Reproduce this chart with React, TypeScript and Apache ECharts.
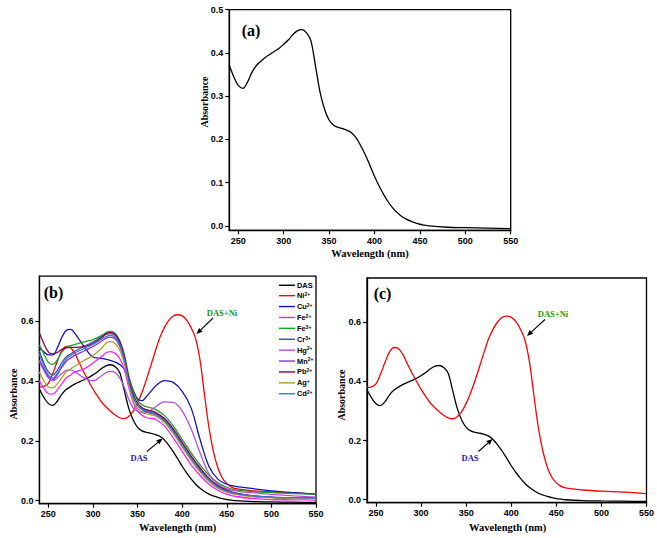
import React, { useEffect, useRef } from "react";
import * as echarts from "echarts";

// ---------- data ----------
const WL_FINE = [240, 245, 250, 255, 260, 265, 270, 275, 280, 285, 290, 295, 300, 305, 310, 315, 320, 325, 330, 335, 340, 345, 350, 355, 360, 365, 370, 375, 380, 385, 390, 395, 400, 405, 410, 415, 420, 425, 430, 435, 440, 445, 450, 455, 460, 480, 500, 525, 550];

const DAS = [0.372, 0.345, 0.325, 0.318, 0.332, 0.355, 0.371, 0.381, 0.390, 0.397, 0.404, 0.411, 0.420, 0.430, 0.442, 0.451, 0.454, 0.447, 0.428, 0.370, 0.310, 0.270, 0.245, 0.233, 0.228, 0.225, 0.221, 0.215, 0.203, 0.185, 0.164, 0.140, 0.115, 0.093, 0.073, 0.056, 0.042, 0.031, 0.022, 0.016, 0.011, 0.007, 0.004, 0.002, 0.000, -0.003, -0.004, -0.005, -0.006];

const NI = [0.380, 0.382, 0.392, 0.425, 0.465, 0.500, 0.515, 0.511, 0.490, 0.458, 0.428, 0.400, 0.373, 0.350, 0.328, 0.312, 0.298, 0.286, 0.277, 0.274, 0.281, 0.298, 0.326, 0.362, 0.405, 0.452, 0.500, 0.545, 0.578, 0.602, 0.617, 0.621, 0.617, 0.603, 0.578, 0.542, 0.470, 0.355, 0.245, 0.165, 0.110, 0.076, 0.057, 0.046, 0.040, 0.033, 0.029, 0.026, 0.021];

const WL = [240, 245, 250, 255, 260, 265, 270, 275, 280, 290, 300, 310, 315, 320, 325, 330, 335, 340, 345, 350, 355, 360, 365, 370, 380, 390, 400, 410, 420, 430, 440, 450, 460, 480, 500, 525, 550];

const CU = [0.510, 0.497, 0.487, 0.487, 0.510, 0.545, 0.568, 0.572, 0.558, 0.515, 0.480, 0.475, 0.472, 0.468, 0.463, 0.455, 0.440, 0.410, 0.370, 0.340, 0.334, 0.348, 0.365, 0.382, 0.401, 0.395, 0.365, 0.310, 0.205, 0.115, 0.072, 0.055, 0.048, 0.040, 0.033, 0.027, 0.022];
const FE2 = [0.400, 0.375, 0.358, 0.356, 0.370, 0.390, 0.410, 0.420, 0.430, 0.440, 0.460, 0.482, 0.495, 0.498, 0.492, 0.475, 0.440, 0.380, 0.330, 0.300, 0.285, 0.277, 0.275, 0.272, 0.250, 0.210, 0.165, 0.120, 0.085, 0.055, 0.035, 0.022, 0.014, 0.007, 0.004, 0.003, 0.002];
const FE3 = [0.520, 0.490, 0.462, 0.455, 0.470, 0.495, 0.512, 0.518, 0.522, 0.530, 0.538, 0.552, 0.562, 0.565, 0.558, 0.535, 0.490, 0.420, 0.365, 0.335, 0.320, 0.314, 0.310, 0.305, 0.285, 0.250, 0.205, 0.160, 0.120, 0.085, 0.060, 0.045, 0.036, 0.030, 0.027, 0.024, 0.022];
const CR = [0.500, 0.460, 0.430, 0.420, 0.435, 0.460, 0.480, 0.490, 0.500, 0.515, 0.530, 0.548, 0.556, 0.558, 0.552, 0.528, 0.480, 0.405, 0.350, 0.322, 0.308, 0.302, 0.298, 0.292, 0.272, 0.235, 0.190, 0.145, 0.105, 0.072, 0.048, 0.033, 0.025, 0.016, 0.012, 0.010, 0.009];
const HG = [0.465, 0.435, 0.410, 0.400, 0.410, 0.425, 0.435, 0.437, 0.430, 0.410, 0.400, 0.418, 0.428, 0.432, 0.428, 0.410, 0.380, 0.340, 0.310, 0.298, 0.295, 0.297, 0.302, 0.313, 0.330, 0.328, 0.300, 0.240, 0.160, 0.090, 0.055, 0.040, 0.033, 0.026, 0.021, 0.016, 0.012];
const MN = [0.470, 0.440, 0.415, 0.405, 0.420, 0.445, 0.465, 0.476, 0.486, 0.500, 0.515, 0.533, 0.543, 0.546, 0.540, 0.517, 0.470, 0.398, 0.345, 0.318, 0.303, 0.296, 0.292, 0.287, 0.266, 0.230, 0.184, 0.140, 0.100, 0.068, 0.045, 0.031, 0.023, 0.015, 0.011, 0.009, 0.008];
const PB = [0.560, 0.525, 0.497, 0.490, 0.495, 0.505, 0.510, 0.512, 0.512, 0.515, 0.525, 0.545, 0.558, 0.562, 0.555, 0.532, 0.485, 0.410, 0.355, 0.325, 0.310, 0.304, 0.300, 0.295, 0.275, 0.240, 0.195, 0.150, 0.110, 0.075, 0.050, 0.035, 0.025, 0.015, 0.011, 0.009, 0.008];
const AG = [0.430, 0.400, 0.380, 0.377, 0.390, 0.410, 0.430, 0.440, 0.450, 0.468, 0.485, 0.510, 0.527, 0.531, 0.524, 0.503, 0.460, 0.390, 0.335, 0.308, 0.295, 0.290, 0.287, 0.283, 0.262, 0.225, 0.180, 0.135, 0.096, 0.064, 0.042, 0.029, 0.021, 0.013, 0.010, 0.008, 0.007];
const CD = [0.490, 0.450, 0.420, 0.410, 0.425, 0.450, 0.472, 0.484, 0.494, 0.508, 0.522, 0.540, 0.549, 0.552, 0.545, 0.522, 0.475, 0.400, 0.347, 0.320, 0.305, 0.298, 0.294, 0.289, 0.268, 0.232, 0.187, 0.142, 0.102, 0.070, 0.046, 0.032, 0.024, 0.016, 0.012, 0.010, 0.009];

const ION_NAMES = ["Cu2+", "Fe2+", "Fe3+", "Cr3+", "Hg2+", "Mn2+", "Pb2+", "Ag+", "Cd2+"];
const ION_VALUES = [CU, FE2, FE3, CR, HG, MN, PB, AG, CD];
const ION_COLORS = ["#1010c0", "#ff20ff", "#20a020", "#4050a8", "#b050e0", "#9030c8", "#900040", "#a8a030", "#3878d8"];
const LEGEND_NAMES = ["DAS", "Ni2+", ...ION_NAMES];

const X_TICKS = [250, 300, 350, 400, 450, 500, 550];
const Y_TICKS_A = [0, 0.1, 0.2, 0.3, 0.4, 0.5];
const Y_TICKS_BC = [0, 0.2, 0.4, 0.6];

// ---------- helpers ----------
const pairs = (xs: number[], ys: number[]) => xs.map((x, i) => [x, ys[i]]);

const TICK_FONT = "Liberation Sans, Arial, sans-serif";
const TITLE_FONT = "Liberation Serif, Times New Roman, serif";

function xAxis(gridIndex: number) {
  return {
    type: "value",
    gridIndex,
    min: 240,
    max: 550,
    axisLine: { show: true, onZero: false, lineStyle: { color: "#000", width: 1.3 } },
    axisTick: { show: true, inside: false, length: 4, customValues: X_TICKS, lineStyle: { color: "#000", width: 1.2 } },
    axisLabel: { customValues: X_TICKS, margin: 6, color: "#000", fontSize: 9, fontWeight: "bold", fontFamily: TICK_FONT },
    splitLine: { show: false },
  };
}

function yAxis(gridIndex: number, max: number, ticks: number[]) {
  return {
    type: "value",
    gridIndex,
    min: -0.01,
    max,
    axisLine: { show: true, onZero: false, lineStyle: { color: "#000", width: 1.3 } },
    axisTick: { show: true, inside: false, length: 4, customValues: ticks, lineStyle: { color: "#000", width: 1.2 } },
    axisLabel: {
      customValues: ticks,
      margin: 6,
      color: "#000",
      fontSize: 9,
      fontWeight: "bold",
      fontFamily: TICK_FONT,
      formatter: (v: number) => v.toFixed(1),
    },
    splitLine: { show: false },
  };
}

function line(name: string, data: number[][], color: string, idx: number) {
  return {
    type: "line",
    name,
    xAxisIndex: idx,
    yAxisIndex: idx,
    data,
    smooth: 0.35,
    showSymbol: false,
    symbol: "none",
    lineStyle: { color, width: 1.3 },
    itemStyle: { color },
    silent: true,
  };
}

function txt(x: number, y: number, text: string, font: string, fill = "#000", rotation = 0) {
  return {
    type: "text",
    x,
    y,
    rotation,
    style: { text, font, fill, textAlign: "center", textVerticalAlign: "middle" },
  };
}

function arrow(x1: number, y1: number, x2: number, y2: number) {
  const ang = Math.atan2(y2 - y1, x2 - x1);
  const L = 6;
  const W = 2.6;
  const bx = x2 - L * Math.cos(ang);
  const by = y2 - L * Math.sin(ang);
  const px = -Math.sin(ang) * W;
  const py = Math.cos(ang) * W;
  return [
    { type: "line", shape: { x1, y1, x2: bx, y2: by }, style: { stroke: "#000", lineWidth: 1.1 } },
    {
      type: "polygon",
      shape: { points: [[x2, y2], [bx + px, by + py], [bx - px, by - py]] },
      style: { fill: "#000" },
    },
  ];
}

export default function App() {
  const ref = useRef<HTMLDivElement>(null);
  useEffect(() => {
    if (!ref.current) return;
    const chart = echarts.init(ref.current, null, { renderer: "svg" });

    const dasFine = pairs(WL_FINE, DAS);
    const niFine = pairs(WL_FINE, NI);

    const series: any[] = [];
    series.push(line("DAS", dasFine, "#000", 0));
    series.push(line("DAS", dasFine, "#000", 1));
    series.push(line("Ni2+", niFine, "#ff0000", 1));
    ION_NAMES.forEach((n, i) => series.push(line(n, pairs(WL, ION_VALUES[i]), ION_COLORS[i], 1)));
    series.push(line("DAS", dasFine, "#000", 2));
    series.push(line("Ni2+", niFine, "#ff0000", 2));

    const titleFont = "bold 10.5px " + TITLE_FONT;
    const absFont = "bold 10px " + TITLE_FONT;
    const panelFont = "bold 16px " + TITLE_FONT;
    const annFont = "bold 8.5px " + TITLE_FONT;

    chart.setOption({
      animation: false,
      backgroundColor: "#fff",
      grid: [
        { left: 229.2, top: 9.7, width: 281.5, height: 220.6, show: true, borderColor: "#000", borderWidth: 1.3, backgroundColor: "transparent" },
        { left: 39.4, top: 276.1, width: 276.6, height: 227.6, show: true, borderColor: "#000", borderWidth: 1.3, backgroundColor: "transparent" },
        { left: 367, top: 278, width: 281.5, height: 224.7, show: true, borderColor: "#000", borderWidth: 1.3, backgroundColor: "transparent" },
      ],
      xAxis: [xAxis(0), xAxis(1), xAxis(2)],
      yAxis: [yAxis(0, 0.5, Y_TICKS_A), yAxis(1, 0.75, Y_TICKS_BC), yAxis(2, 0.75, Y_TICKS_BC)],
      legend: {
        show: true,
        data: LEGEND_NAMES,
        orient: "vertical",
        left: 274,
        top: 276,
        icon: "rect",
        itemWidth: 16,
        itemHeight: 1.4,
        itemGap: 1.9,
        selectedMode: false,
        textStyle: {
          color: "#000",
          fontSize: 7.4,
          lineHeight: 8.5,
          fontWeight: "bold",
          fontFamily: TICK_FONT,
          padding: [0, 0, 0, -3],
          rich: {
            b: { fontSize: 7.4, lineHeight: 8.5, fontWeight: "bold", fontFamily: TICK_FONT, color: "#000" },
            s: { fontSize: 5, lineHeight: 8.5, fontWeight: "bold", fontFamily: TICK_FONT, color: "#000", verticalAlign: "top", padding: [0, 0, 4, 0] },
          },
        },
        formatter: (name: string) => {
          const m = name.match(/^([A-Za-z]+)(\d*[+-])?$/);
          if (m && m[2]) return `{b|${m[1]}}{s|${m[2]}}`;
          return `{b|${name}}`;
        },
      },
      series,
      graphic: [
        // panel labels
        txt(251, 30, "(a)", panelFont),
        txt(53.5, 292, "(b)", panelFont),
        txt(382.5, 293, "(c)", panelFont),
        // axis titles
        txt(370, 253, "Wavelength (nm)", titleFont),
        txt(177.7, 527, "Wavelength (nm)", titleFont),
        txt(507.7, 527, "Wavelength (nm)", titleFont),
        txt(204, 102, "Absorbance", absFont, "#000", Math.PI / 2),
        txt(13, 394, "Absorbance", absFont, "#000", Math.PI / 2),
        txt(341, 395, "Absorbance", absFont, "#000", Math.PI / 2),
        // annotations (b)
        txt(222, 313, "DAS+Ni", annFont, "#1a961a"),
        ...arrow(213, 318, 196.5, 334),
        txt(139, 458, "DAS", annFont, "#1c1ca8"),
        ...arrow(147, 451.5, 162.5, 438.5),
        // annotations (c)
        txt(553, 314, "DAS+Ni", annFont, "#1a961a"),
        ...arrow(545, 319.5, 527, 336),
        txt(470, 458, "DAS", annFont, "#1c1ca8"),
        ...arrow(478.5, 451.5, 492.5, 439),
      ],
    });
    return () => chart.dispose();
  }, []);

  return (
    <div
      ref={ref}
      style={{ position: "absolute", left: 0, top: 0, width: 657, height: 538, background: "#fff" }}
    />
  );
}
